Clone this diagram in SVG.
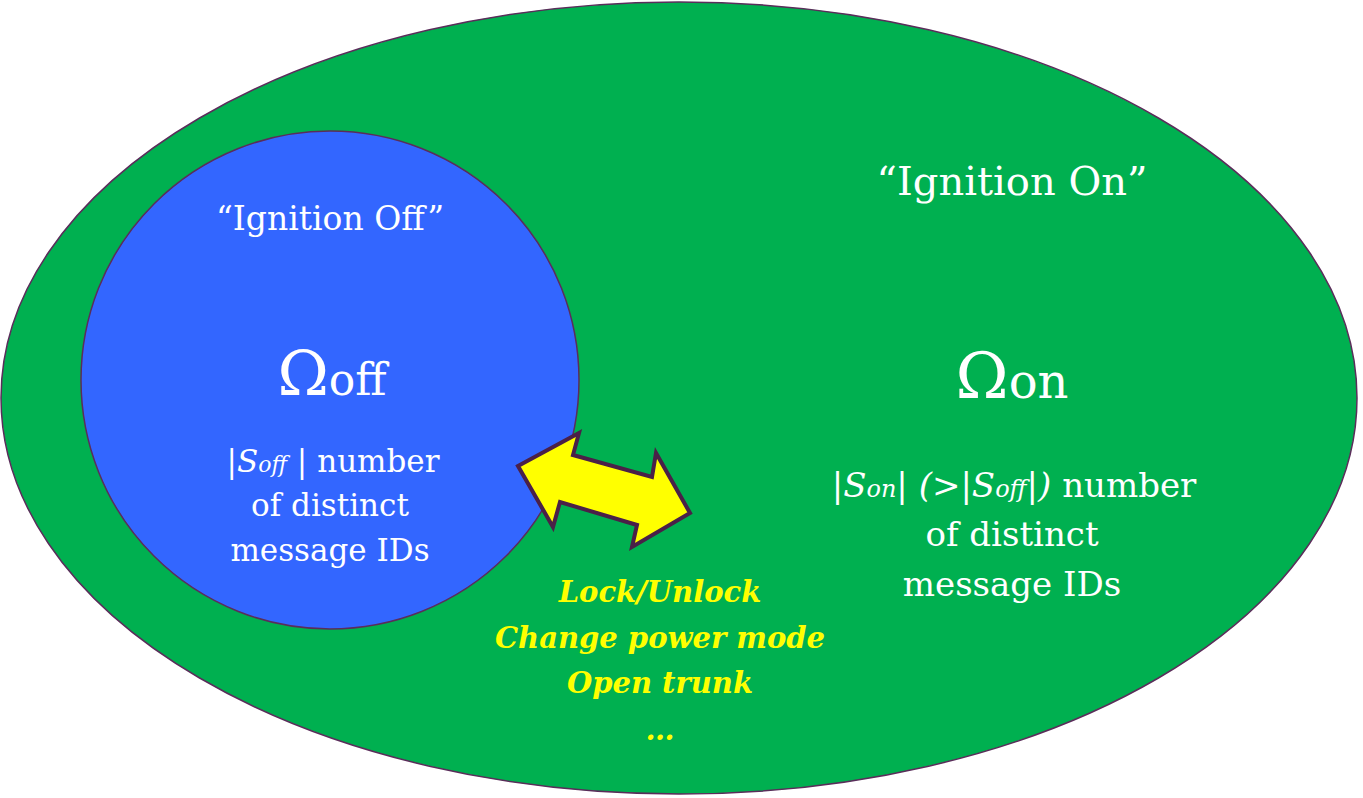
<svg xmlns="http://www.w3.org/2000/svg" width="1363" height="798" viewBox="0 0 1363 798">
<style>
.w{fill:#fff;font-family:"DejaVu Serif","Liberation Serif",serif;text-anchor:middle}
.y{fill:#ffff00;font-family:"DejaVu Serif","Liberation Serif",serif;font-weight:bold;font-style:italic;font-size:29px;text-anchor:middle}
.i{font-style:italic}
</style>
<rect width="1363" height="798" fill="#fff"/>
<g id="on">
<ellipse cx="679" cy="398" rx="678" ry="396" fill="#00b050" stroke="#5a2d5a" stroke-width="1.5"/>
<text class="w" x="1012" y="195" font-size="40">“Ignition On”</text>
<text class="w" x="1012" y="398" font-size="64">Ω<tspan font-size="48" dy="0">on</tspan></text>
<text class="w" x="1014" y="497" font-size="34">|<tspan class="i">S</tspan><tspan class="i" font-size="24">on</tspan>| <tspan class="i">(&gt;|</tspan><tspan class="i">S</tspan><tspan class="i" font-size="24">off</tspan><tspan class="i">|)</tspan> number</text>
<text class="w" x="1012" y="546" font-size="34">of distinct</text>
<text class="w" x="1012" y="596" font-size="34">message IDs</text>
</g>
<g id="off">
<circle cx="330" cy="380" r="249" fill="#3366ff" stroke="#5a2d5a" stroke-width="1.5"/>
<text class="w" x="330" y="230" font-size="33">“Ignition Off”</text>
<text class="w" x="332" y="395" font-size="62">Ω<tspan font-size="44">off</tspan></text>
<text class="w" x="333" y="472" font-size="31">|<tspan class="i">S</tspan><tspan class="i" font-size="22">off</tspan> | number</text>
<text class="w" x="330" y="516" font-size="31">of distinct</text>
<text class="w" x="330" y="561" font-size="31">message IDs</text>
</g>
<g id="connectors">
<path d="M518,466 L579,433 L573,455 L652,477 L656,453 L690,513 L632,547 L637,525 L560,502 L553,527 Z" fill="#ffff00" stroke="#4a2048" stroke-width="4" stroke-linejoin="miter"/>
</g>
<g id="labels">
<text class="y" x="660" y="602">Lock/Unlock</text>
<text class="y" x="660" y="648">Change power mode</text>
<text class="y" x="660" y="693">Open trunk</text>
<text class="y" x="660" y="740">…</text>
</g>
</svg>
